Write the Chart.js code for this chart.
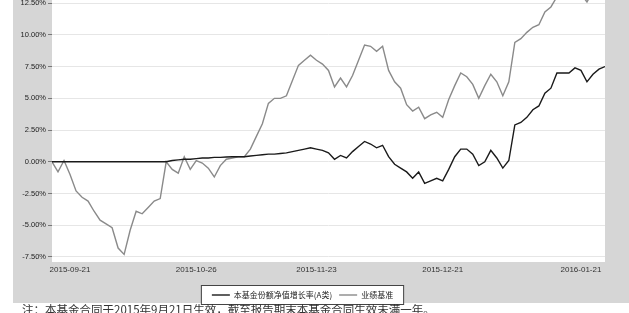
<!DOCTYPE html>
<html>
<head>
<meta charset="utf-8">
<script src="https://cdn.jsdelivr.net/npm/chart.js@4.4.0/dist/chart.umd.min.js"></script>
<style>
html, body { margin: 0; padding: 0; background: #fff; }
</style>
</head>
<body>
<canvas id="myChart" width="629" height="313"></canvas>
<script>
// Datos
const fundName = '本基金份额净值增长率(A类)';
const benchName = '业绩基准';
const note = '注：本基金合同于2015年9月21日生效，截至报告期末本基金合同生效未满一年。';

const fund = [
    0, 0, 0, 0, 0, 0, 0, 0, 0, 0,
    0, 0, 0, 0, 0, 0, 0, 0, 0, 0,
    0.1, 0.15, 0.2, 0.2, 0.25, 0.3, 0.3, 0.35, 0.35, 0.37,
    0.4, 0.4, 0.4, 0.45, 0.5, 0.55, 0.6, 0.6, 0.65, 0.7,
    0.8, 0.9, 1.0, 1.1, 1.0, 0.9, 0.7, 0.2, 0.5, 0.3,
    0.8, 1.2, 1.6, 1.4, 1.1, 1.3, 0.4, -0.2, -0.5, -0.8,
    -1.3, -0.8, -1.7, -1.5, -1.3, -1.5, -0.6, 0.4, 1.0, 1.0,
    0.6, -0.3, 0.0, 0.9, 0.3, -0.5, 0.1, 2.9, 3.1, 3.5,
    4.1, 4.4, 5.4, 5.8, 7.0, 7.0, 7.0, 7.4, 7.2, 6.3,
    6.9, 7.3, 7.5
];
const bench = [
    0.0, -0.8, 0.1, -1.0, -2.3, -2.8, -3.1, -3.9, -4.6, -4.9,
    -5.2, -6.8, -7.3, -5.4, -3.9, -4.1, -3.6, -3.1, -2.9, 0.0,
    -0.6, -0.9, 0.4, -0.6, 0.1, -0.1, -0.5, -1.2, -0.3, 0.2,
    0.3, 0.4, 0.4, 1.0, 2.0, 3.0, 4.6, 5.0, 5.0, 5.2,
    6.4, 7.6, 8.0, 8.4, 8.0, 7.7, 7.2, 5.9, 6.6, 5.9,
    6.8, 8.0, 9.2, 9.1, 8.7, 9.1, 7.2, 6.3, 5.8, 4.5,
    4.0, 4.3, 3.4, 3.7, 3.9, 3.5, 4.9, 6.0, 7.0, 6.7,
    6.1, 5.0, 6.0, 6.9, 6.3, 5.2, 6.3, 9.4, 9.7, 10.2,
    10.6, 10.8, 11.8, 12.2, 13.0, 13.6, 14.0, 13.5, 13.2, 12.6,
    13.4, 13.8, 13.9
];

const yTicks = [-7.5, -5, -2.5, 0, 2.5, 5, 7.5, 10, 12.5];
const xTickPos = [3, 24, 44, 65, 88];
const xTickText = ['2015-09-21', '2015-10-26', '2015-11-23', '2015-12-21', '2016-01-21'];

// Fondo gris, area blanca, caja de leyenda y nota
const fondo = {
    id: 'fondo',
    beforeDraw(chart) {
        const ctx = chart.ctx;
        const a = chart.chartArea;
        ctx.save();
        ctx.fillStyle = '#ffffff';
        ctx.fillRect(0, 0, chart.width, chart.height);
        ctx.fillStyle = '#d6d6d6';
        ctx.fillRect(13, 0, chart.width - 13, 303);
        ctx.fillStyle = '#ffffff';
        ctx.fillRect(a.left, a.top, a.right - a.left, a.bottom - a.top);

        const hb = chart.legend.legendHitBoxes;
        if (hb && hb.length) {
            let l = Infinity, r = -Infinity, t = Infinity, b = -Infinity;
            hb.forEach(h => {
                l = Math.min(l, h.left); r = Math.max(r, h.left + h.width);
                t = Math.min(t, h.top); b = Math.max(b, h.top + h.height);
            });
            ctx.fillStyle = '#ffffff';
            ctx.fillRect(l - 10, t - 5, r - l + 20, b - t + 10);
            ctx.strokeStyle = '#444';
            ctx.lineWidth = 1;
            ctx.strokeRect(l - 10.5, t - 5.5, r - l + 21, b - t + 11);
        }
        ctx.restore();
    },
    afterDraw(chart) {
        const ctx = chart.ctx;
        ctx.save();
        ctx.font = '11.5px "Noto Sans CJK SC"';
        ctx.fillStyle = '#333';
        ctx.textBaseline = 'middle';
        ctx.fillText(note, 22, 310);
        ctx.restore();
    }
};

const ctx = document.getElementById('myChart');
const myChart = new Chart(ctx, {
    type: 'line',
    data: {
        datasets: [{
            label: fundName,
            data: fund.map((v, i) => ({x: i, y: v})),
            borderColor: '#1a1a1a',
            backgroundColor: '#1a1a1a',
            borderWidth: 1.4,
            pointRadius: 0,
            tension: 0
        }, {
            label: benchName,
            data: bench.map((v, i) => ({x: i, y: v})),
            borderColor: '#8a8a8a',
            backgroundColor: '#8a8a8a',
            borderWidth: 1.4,
            pointRadius: 0,
            tension: 0
        }]
    },
    options: {
        responsive: false,
        animation: false,
        devicePixelRatio: 1,
        layout: { padding: { left: 0, right: 24, top: 0, bottom: 4 } },
        plugins: {
            legend: {
                position: 'bottom',
                labels: {
                    usePointStyle: true,
                    pointStyle: 'line',
                    pointStyleWidth: 18,
                    padding: 7,
                    color: '#222',
                    font: { size: 8, family: '"Noto Sans CJK SC"' }
                }
            },
            tooltip: { enabled: false }
        },
        scales: {
            x: {
                type: 'linear',
                min: 0,
                max: fund.length - 1,
                afterBuildTicks: s => { s.ticks = xTickPos.map(v => ({value: v})); },
                afterFit: s => { s.height = 22; },
                grid: { display: false, drawTicks: false },
                border: { display: false },
                ticks: {
                    autoSkip: false,
                    maxRotation: 0,
                    padding: 3,
                    color: '#333',
                    font: { size: 8, family: '"Liberation Sans"' },
                    callback: v => xTickText[xTickPos.indexOf(v)]
                }
            },
            y: {
                min: -7.9,
                max: 12.75,
                afterBuildTicks: s => { s.ticks = yTicks.map(v => ({value: v})); },
                afterFit: s => { s.width = 52; s.paddingTop = 0; s.paddingBottom = 0; },
                grid: { color: '#e6e6e6', tickColor: '#777', tickLength: 4 },
                border: { display: false },
                ticks: {
                    padding: 2,
                    color: '#222',
                    font: { size: 7.5, family: '"Liberation Sans"' },
                    callback: v => v.toFixed(2) + '%'
                }
            }
        }
    },
    plugins: [fondo]
});
</script>
</body>
</html>
